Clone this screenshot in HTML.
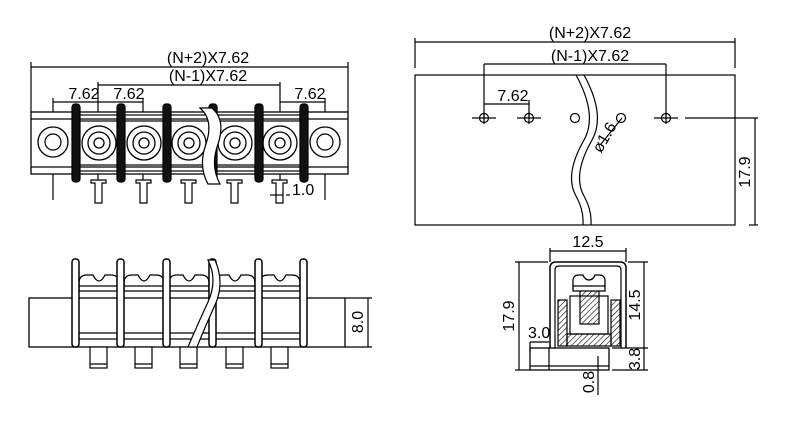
<!DOCTYPE html>
<html><head><meta charset="utf-8"><style>
html,body{margin:0;padding:0;background:#fff;}
svg{display:block}
text{font-family:"Liberation Sans",sans-serif;font-size:16px;fill:#000}
</style></head><body>
<svg width="800" height="431" viewBox="0 0 800 431" xmlns="http://www.w3.org/2000/svg">
<defs>
<pattern id="h" width="4" height="4" patternUnits="userSpaceOnUse" patternTransform="rotate(45)"><line x1="0" y1="0" x2="0" y2="4" stroke="#000" stroke-width="1.2"/></pattern>
<g id="term">
 <circle cx="0" cy="0" r="17" fill="none" stroke="#000" stroke-width="1.3"/>
 <circle cx="0" cy="0" r="11" fill="none" stroke="#000" stroke-width="1.3"/>
 <circle cx="0" cy="0" r="5" fill="none" stroke="#000" stroke-width="1.3"/>
 <rect x="-20" y="-28" width="40" height="6" fill="none" stroke="#000"/>
 <rect x="-20" y="22" width="40" height="6" fill="none" stroke="#000"/>
 <path d="M-8 37 h15 v3 h-4 v20 h-7 v-20 h-4z" fill="#fff" stroke="#000"/>
</g>
<g id="front">
 <path d="M-20 17 v-8 q0-8 8-8 h6 q3 6 6 6 q3 0 6-6 h6 q8 0 8 8 v8z" fill="#fff" stroke="#000" stroke-width="1.3"/>
 <line x1="-20" y1="12" x2="20" y2="12" stroke="#000"/>
 <line x1="-20" y1="65" x2="20" y2="65" stroke="#000"/>
 <rect x="-9" y="73" width="17" height="21" fill="#fff" stroke="#000"/>
 <line x1="-9" y1="90" x2="8" y2="90" stroke="#000"/>
</g>
</defs>
<g fill="none" stroke="#000" stroke-width="1.2">
<line x1="31" y1="67" x2="348" y2="67"/>
<line x1="31" y1="62" x2="31" y2="112"/><line x1="348" y1="62" x2="348" y2="112"/>
<line x1="98" y1="85" x2="280" y2="85"/>
<line x1="53" y1="102" x2="143" y2="102"/><line x1="280" y1="102" x2="325" y2="102"/>
<line x1="53" y1="98" x2="53" y2="200"/><line x1="325" y1="98" x2="325" y2="200"/>
<line x1="98" y1="82" x2="98" y2="200"/><line x1="143" y1="98" x2="143" y2="200"/><line x1="280" y1="82" x2="280" y2="200"/>
<rect x="31" y="112" width="317" height="62" fill="#fff" stroke-width="1.3"/>
<line x1="31" y1="119" x2="348" y2="119"/><line x1="31" y1="167" x2="348" y2="167"/>
<circle cx="53" cy="142" r="15" fill="#fff" stroke-width="1.3"/><circle cx="53" cy="142" r="8"/>
<circle cx="325" cy="142" r="15" fill="#fff" stroke-width="1.3"/><circle cx="325" cy="142" r="8"/>
<use href="#term" x="99" y="143"/><use href="#term" x="144" y="143"/><use href="#term" x="189" y="143"/><use href="#term" x="235" y="143"/><use href="#term" x="280" y="143"/>
<g fill="#111" stroke="#000"><rect x="72" y="104" width="8" height="78" rx="3"/><rect x="117" y="104" width="8" height="78" rx="3"/><rect x="163" y="104" width="8" height="78" rx="3"/><rect x="209" y="104" width="8" height="78" rx="3"/><rect x="255" y="104" width="8" height="78" rx="3"/><rect x="300" y="104" width="8" height="78" rx="3"/></g>
<path d="M200 108 q14 12 6 36 q-8 22 2 40 h12 q-10-18-2-40 q8-24-6-36z" fill="#fff"/>
<line x1="270" y1="195" x2="283" y2="195"/><line x1="286" y1="195" x2="290" y2="195"/>
<rect x="29" y="298" width="316" height="49" fill="#fff" stroke-width="1.3"/>
<line x1="345" y1="298" x2="372" y2="298"/><line x1="345" y1="347" x2="372" y2="347"/>
<line x1="368" y1="298" x2="368" y2="347"/>
<line x1="75" y1="333" x2="305" y2="333"/>
<use href="#front" x="99" y="274"/><use href="#front" x="144" y="274"/><use href="#front" x="189" y="274"/><use href="#front" x="235" y="274"/><use href="#front" x="280" y="274"/>
<g fill="#fff" stroke-width="1.5"><rect x="72" y="259" width="7" height="88" rx="3"/><rect x="117" y="259" width="7" height="88" rx="3"/><rect x="163" y="259" width="7" height="88" rx="3"/><rect x="209" y="259" width="7" height="88" rx="3"/><rect x="255" y="259" width="7" height="88" rx="3"/><rect x="300" y="259" width="7" height="88" rx="3"/></g>
<path d="M208 260 q10 20 0 42 q-12 26-20 45 h9 q8-20 18-42 q10-22 0-45z" fill="#fff"/>
<line x1="415" y1="42" x2="735" y2="42"/><line x1="415" y1="38" x2="415" y2="68"/><line x1="735" y1="38" x2="735" y2="68"/>
<line x1="484" y1="64" x2="666" y2="64"/><line x1="484" y1="64" x2="484" y2="118"/><line x1="666" y1="64" x2="666" y2="118"/>
<line x1="484" y1="104" x2="529" y2="104"/><line x1="529" y1="100" x2="529" y2="118"/>
<rect x="415" y="75" width="320" height="150"/>
<path d="M576 75 q22 40 8 65 q-20 35-8 56 q8 14 7 29 M584 75 q22 40 8 65 q-20 35-8 56 q8 14 7 29"/>
<g><circle cx="484" cy="118" r="4.5"/><line x1="472" y1="118" x2="496" y2="118"/><line x1="484" y1="112" x2="484" y2="124"/>
<circle cx="529" cy="118" r="4.5"/><line x1="517" y1="118" x2="541" y2="118"/><line x1="529" y1="112" x2="529" y2="124"/>
<circle cx="666" cy="118" r="4.5"/><line x1="654" y1="118" x2="678" y2="118"/><line x1="666" y1="112" x2="666" y2="124"/>
<circle cx="575" cy="118" r="4.5"/><circle cx="621" cy="118" r="4.5"/></g>
<line x1="685" y1="118" x2="758" y2="118"/><line x1="755" y1="118" x2="755" y2="225"/><line x1="749" y1="225" x2="758" y2="225"/>
<line x1="601" y1="144" x2="622" y2="118"/>
<line x1="550" y1="251" x2="626" y2="251"/><line x1="550" y1="248" x2="550" y2="262"/><line x1="626" y1="248" x2="626" y2="262"/>
<line x1="515" y1="262" x2="548" y2="262"/><line x1="519" y1="262" x2="519" y2="370"/><line x1="515" y1="370" x2="530" y2="370"/>
<line x1="628" y1="262" x2="648" y2="262"/><line x1="644" y1="262" x2="644" y2="370"/><line x1="612" y1="348" x2="648" y2="348"/><line x1="612" y1="370" x2="648" y2="370"/>
<path d="M550 348 v-80 q0-6 6-6 h64 q6 0 6 6 v80" stroke-width="1.5"/>
<path d="M555 348 v-78 q0-4 4-4 h58 q4 0 4 4 v78"/>
<rect x="530" y="348" width="79" height="22" stroke-width="1.3"/>
<line x1="530" y1="366" x2="609" y2="366"/><line x1="549" y1="348" x2="549" y2="370"/>
<line x1="530" y1="342" x2="549" y2="342"/><line x1="530" y1="342" x2="530" y2="352"/>
<line x1="598" y1="356" x2="598" y2="395"/>
<rect x="558" y="300" width="9" height="46" fill="url(#h)"/><rect x="611" y="300" width="9" height="46" fill="url(#h)"/>
<rect x="567" y="334" width="44" height="12" fill="url(#h)"/>
<rect x="570" y="296" width="38" height="38"/>
<rect x="580" y="290" width="19" height="34" fill="url(#h)"/>
<path d="M573 291 v-10 q0-6 6-6 h4 q2 5 6 5 q4 0 6-5 h4 q6 0 6 6 v10z" fill="#fff" stroke-width="1.3"/>
<line x1="573" y1="286" x2="605" y2="286"/>
</g>
<g>
<text x="208" y="63" text-anchor="middle">(N+2)X7.62</text>
<text x="208" y="81" text-anchor="middle">(N-1)X7.62</text>
<text x="84" y="99" text-anchor="middle">7.62</text>
<text x="129" y="99" text-anchor="middle">7.62</text>
<text x="310" y="99" text-anchor="middle">7.62</text>
<text x="292" y="195">1.0</text>
<text x="590" y="38" text-anchor="middle">(N+2)X7.62</text>
<text x="590" y="61" text-anchor="middle">(N-1)X7.62</text>
<text x="513" y="101" text-anchor="middle">7.62</text>
<text transform="translate(609,140) rotate(-60)" text-anchor="middle">ø1.6</text>
<text transform="translate(750,172) rotate(-90)" text-anchor="middle">17.9</text>
<text transform="translate(363,322) rotate(-90)" text-anchor="middle">8.0</text>
<text x="588" y="247" text-anchor="middle">12.5</text>
<text transform="translate(514,316) rotate(-90)" text-anchor="middle">17.9</text>
<text transform="translate(640,305) rotate(-90)" text-anchor="middle">14.5</text>
<text transform="translate(640,359) rotate(-90)" text-anchor="middle">3.8</text>
<text x="528" y="338">3.0</text>
<text transform="translate(594,382) rotate(-90)" text-anchor="middle">0.8</text>
</g>
</svg>
</body></html>
